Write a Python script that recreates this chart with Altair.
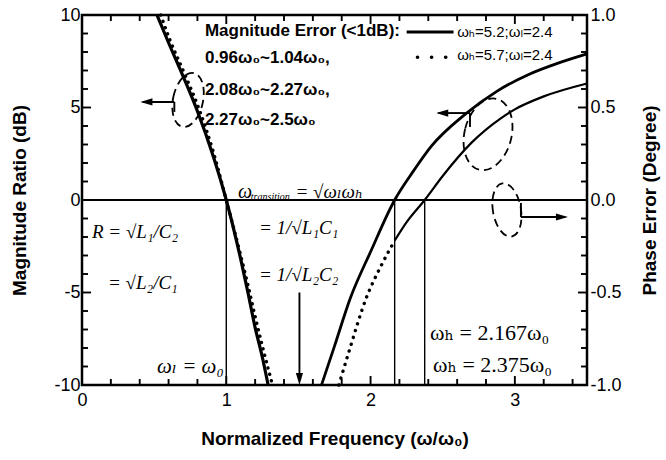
import altair as alt
import pandas as pd

# Magnitude ratio (dB) against normalized frequency w/w0
low_x = [0.52, 0.60, 0.70, 0.80, 0.90, 1.00, 1.10, 1.15, 1.20, 1.25, 1.29]
low_db = [10.0, 8.5, 6.7, 4.8, 2.6, 0.0, -3.2, -5.0, -6.9, -8.5, -10.0]

low_dot_x = [0.545, 0.612, 0.712, 0.812, 0.91, 1.00, 1.10, 1.15, 1.20, 1.25, 1.30, 1.32]
low_dot_db = [10.0, 8.6, 6.8, 4.9, 2.6, 0.0, -3.0, -4.6, -6.3, -7.9, -9.4, -10.0]

high_x = [1.66, 1.75, 1.86, 2.00, 2.167, 2.30, 2.42, 2.65, 2.88, 3.10, 3.30, 3.50]
high_db = [-10.0, -7.9, -5.3, -2.8, 0.0, 1.6, 2.9, 4.6, 5.9, 6.8, 7.4, 7.9]

high_dot_x = [1.78, 1.85, 1.97, 2.07, 2.167]
high_dot_db = [-10.0, -8.2, -5.3, -3.6, -2.2]

high_b_x = [2.167, 2.25, 2.375, 2.50, 2.70, 2.90, 3.00, 3.20, 3.50]
high_b_db = [-2.2, -1.2, 0.0, 1.3, 3.1, 4.4, 4.9, 5.6, 6.3]

# crossover frequencies (w/w0) marked by vertical lines
marker_x = [1.0, 2.167, 2.375]

# axis ticks
x_major = [0, 1, 2, 3]
x_minor = [0.2, 0.4, 0.6, 0.8, 1.2, 1.4, 1.6, 1.8, 2.2, 2.4, 2.6, 2.8, 3.2, 3.4]
y_major = [-10, -5, 0, 5, 10]
y_minor = [-9, -8, -7, -6, -4, -3, -2, -1, 1, 2, 3, 4, 6, 7, 8, 9]

SANS = "Liberation Sans, Arial, DejaVu Sans, sans-serif"
SERIF = "Liberation Serif, Times New Roman, DejaVu Serif, serif"

W, H = 505, 370
X_LO, X_HI, Y_LO, Y_HI = 0.0, 3.5, -10.0, 10.0
MAJOR, MINOR = 9, 6  # tick lengths in pixels

xs = alt.Scale(domain=[X_LO, X_HI], nice=False, zero=False)
ys = alt.Scale(domain=[Y_LO, Y_HI], nice=False, zero=False)


def X(field, axis=None):
    return alt.X(field, type="quantitative", scale=xs, axis=axis)


def Y(field, axis=None):
    return alt.Y(field, type="quantitative", scale=ys, axis=axis)


common = dict(grid=False, domain=False, ticks=False, labelFlush=False,
              labelOverlap=False)

ax_bottom = alt.Axis(orient="bottom", values=x_major, offset=-8, tickSize=8,
                     labelExpr="'' + datum.value", labelFont=SANS, labelFontSize=18,
                     labelColor="black", labelPadding=14,
                     title="Normalized Frequency (ω/ω₀)", titleFont=SANS,
                     titleFontSize=19, titleFontWeight="bold", titleColor="black",
                     titlePadding=20, **common)
ax_left = alt.Axis(orient="left", values=y_major, offset=-8, tickSize=8,
                   labelExpr="'' + datum.value", labelFont=SANS, labelFontSize=18,
                   labelColor="black", labelPadding=10,
                   title="Magnitude Ratio (dB)", titleFont=SANS, titleFontSize=19,
                   titleFontWeight="bold", titleColor="black", titlePadding=24,
                   **common)
ax_right = alt.Axis(orient="right", values=y_major, offset=-8, tickSize=8,
                    labelExpr="replace(format(datum.value / 10, '.1f'), '−', '-')",
                    labelFont=SANS, labelFontSize=18, labelColor="black",
                    labelPadding=11,
                    title="Phase Error (Degree)", titleFont=SANS, titleFontSize=19,
                    titleFontWeight="bold", titleColor="black", titleAngle=270,
                    titleBaseline="top", titlePadding=19, **common)


def curve(xv, yv, xaxis=None, yaxis=None, **mark):
    df = pd.DataFrame({"f": xv, "db": yv})
    return alt.Chart(df).mark_line(color="black", interpolate="monotone", **mark).encode(
        x=X("f", xaxis), y=Y("db", yaxis), order="f:Q")


def segments(x, y, x2, y2, width):
    df = pd.DataFrame({"x": x, "y": y, "x2": x2, "y2": y2})
    return alt.Chart(df).mark_rule(color="black", strokeWidth=width).encode(
        x=X("x"), y=Y("y"), x2="x2", y2="y2")


layers = []

# horizontal 0 dB line
layers.append(segments([X_LO], [0.0], [X_HI], [0.0], 2.2))

# vertical markers at the crossover frequencies
layers.append(segments(marker_x, [0.0] * 3, marker_x, [Y_LO] * 3, 1.4))

# response curves (these layers also carry the axes)
layers.append(curve(low_x, low_db, ax_bottom, ax_left, strokeWidth=3.2))
layers.append(curve(low_dot_x, low_dot_db, strokeWidth=3.4,
                    strokeDash=[0.1, 6.5], strokeCap="round"))
layers.append(curve(high_x, high_db, yaxis=ax_right, strokeWidth=2.8))
layers.append(curve(high_dot_x, high_dot_db, strokeWidth=3.4,
                    strokeDash=[0.1, 7], strokeCap="round"))
layers.append(curve(high_b_x, high_b_db, strokeWidth=2.2))

# legend samples
layers.append(curve([2.25, 2.575], [9.08, 9.08], strokeWidth=3.2))
layers.append(curve([2.325, 2.525], [7.72, 7.72], strokeWidth=3.6,
                    strokeDash=[0.1, 14], strokeCap="round"))

# dashed rings around groups of curves
ring_x = [0.735, 2.814, 2.945]
ring_y = [5.41, 3.55, -0.54]
ring_w = [30, 47, 28]
ring_h = [55, 73, 54]
ring_tilt = [12, 14, 350]


def ellipse_path(w, h):
    r = w / h
    return (f"M {-r:.3f} 0 A {r:.3f} 1 0 0 1 {r:.3f} 0 "
            f"A {r:.3f} 1 0 0 1 {-r:.3f} 0 Z")


ring_df = pd.DataFrame({
    "x": ring_x, "y": ring_y,
    "path": [ellipse_path(w, h) for w, h in zip(ring_w, ring_h)],
    "s": [h * h for h in ring_h],
    "a": ring_tilt,
})
layers.append(alt.Chart(ring_df).mark_point(
    filled=False, color="black", strokeWidth=1.8, strokeDash=[8, 5], opacity=1
).encode(x=X("x"), y=Y("y"), shape=alt.Shape("path:N", scale=None),
         size=alt.Size("s:Q", scale=None), angle=alt.Angle("a:Q", scale=None)))

# arrow shafts, connectors and inward frame ticks share one segment layer
sx = [0.64, 0.64, 2.689, 2.689, 3.042, 3.042, 1.507]
sy = [5.30, 5.30, 4.70, 4.70, -0.92, -0.92, -5.0]
sx2 = [0.42, 0.64, 2.47, 2.689, 3.35, 3.042, 1.507]
sy2 = [5.30, 4.76, 4.70, 3.95, -0.92, -0.16, -9.5]
for vals, size in ((x_major, MAJOR), (x_minor, MINOR)):
    dy = size * (Y_HI - Y_LO) / H
    for v in vals:
        sx += [float(v), float(v)]
        sx2 += [float(v), float(v)]
        sy += [Y_LO, Y_HI]
        sy2 += [Y_LO + dy, Y_HI - dy]
for vals, size in ((y_major, MAJOR), (y_minor, MINOR)):
    dx = size * (X_HI - X_LO) / W
    for v in vals:
        sy += [float(v), float(v)]
        sy2 += [float(v), float(v)]
        sx += [X_LO, X_HI]
        sx2 += [X_LO + dx, X_HI - dx]
layers.append(segments(sx, sy, sx2, sy2, 1.9))

# arrow heads (tip sits on the point)
head_df = pd.DataFrame({"x": [0.405, 2.455, 3.368, 1.507],
                        "y": [5.30, 4.70, -0.92, -10.0],
                        "a": [0, 0, 180, 270]})
layers.append(alt.Chart(head_df).mark_point(
    shape="M 0 0 L 2 -0.6 L 2 0.6 Z", filled=True, color="black", size=144, opacity=1
).encode(x=X("x"), y=Y("y"), angle=alt.Angle("a:Q", scale=None)))

# bold notes
bold_text = ["Magnitude Error (<1dB):", "0.96ω₀~1.04ω₀,", "2.08ω₀~2.27ω₀,",
             "2.27ω₀~2.5ω₀"]
bold_x = [0.852, 0.852, 0.852, 0.852]
bold_y = [9.11, 7.65, 5.95, 4.32]
layers.append(alt.Chart(pd.DataFrame({"t": bold_text, "x": bold_x, "y": bold_y}))
              .mark_text(align="left", baseline="middle", font=SANS, fontSize=17,
                         fontWeight="bold", color="black")
              .encode(x=X("x"), y=Y("y"), text="t:N"))

# legend labels
legend_text = ["ωₕ=5.2;ωₗ=2.4", "ωₕ=5.7;ωₗ=2.4"]
legend_x = [2.60, 2.60]
legend_y = [9.08, 7.85]
layers.append(alt.Chart(pd.DataFrame({"t": legend_text, "x": legend_x, "y": legend_y}))
              .mark_text(align="left", baseline="middle", font=SANS, fontSize=15,
                         color="black")
              .encode(x=X("x"), y=Y("y"), text="t:N"))

# circuit relations (italic serif)
formula_text = ["ω", "transition", "= √ωₗωₕ", "R = √L₁/C₂", "= √L₂/C₁",
                "= 1/√L₁C₁", "= 1/√L₂C₂", "ωₗ = ω₀"]
formula_x = [1.081, 1.170, 1.480, 0.069, 0.180, 1.227, 1.227, 0.52]
formula_y = [0.43, 0.18, 0.43, -1.73, -4.49, -1.51, -4.05, -9.03]
formula_size = [20, 10, 19, 19, 19, 19, 19, 21]
layers.append(alt.Chart(pd.DataFrame({"t": formula_text, "x": formula_x,
                                      "y": formula_y, "s": formula_size}))
              .mark_text(align="left", baseline="middle", font=SERIF,
                         fontStyle="italic", color="black")
              .encode(x=X("x"), y=Y("y"), text="t:N",
                      size=alt.Size("s:Q", scale=None)))

# upper cut-off frequencies
cut_text = ["ωₕ = 2.167ω₀", "ωₕ = 2.375ω₀"]
cut_x = [2.412, 2.432]
cut_y = [-7.19, -8.92]
layers.append(alt.Chart(pd.DataFrame({"t": cut_text, "x": cut_x, "y": cut_y}))
              .mark_text(align="left", baseline="middle", font=SERIF, fontSize=22,
                         color="black")
              .encode(x=X("x"), y=Y("y"), text="t:N"))

chart = (
    alt.layer(*layers)
    .resolve_axis(x="independent", y="independent")
    .properties(width=W, height=H,
                autosize=alt.AutoSizeParams(type="none"),
                padding={"left": 82, "top": 15, "right": 79, "bottom": 75},
                background="white")
    .configure_view(stroke="black", strokeWidth=2.5)
)

chart.save("out.html", embed_options={"renderer": "svg", "actions": False})
